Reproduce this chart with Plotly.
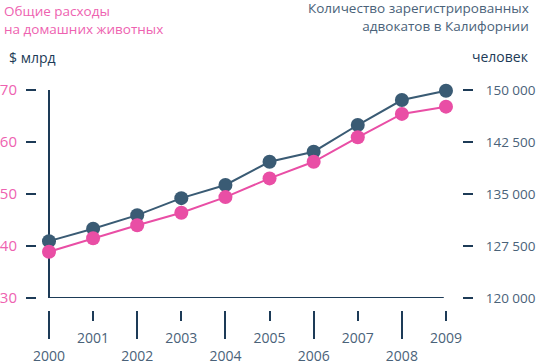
import plotly.graph_objects as go

years = [2000, 2001, 2002, 2003, 2004, 2005, 2006, 2007, 2008, 2009]
pet_spending = [38.9, 41.5, 44.0, 46.4, 49.4, 53.0, 56.2, 60.9, 65.4, 66.8]
lawyers = [128200, 130000, 131950, 134400, 136300, 139650, 141100, 144950, 148550, 149900]

odd_years = [2001, 2003, 2005, 2007, 2009]
even_years = [2000, 2002, 2004, 2006, 2008]
left_ticks = [30, 40, 50, 60, 70]
right_ticks = [120000, 127500, 135000, 142500, 150000]
right_labels = ["120 000", "127 500", "135 000", "142 500", "150 000"]

PINK = "#e94ea5"
PINK_TXT = "#ee62b0"
DARK = "#3a5b74"
NAVY = "#1d3b57"
GREY = "#4a6279"
FONT = "Open Sans"

W, H = 536, 364
L, R, T, B = 37, 74, 90, 54
PW, PH = W - L - R, H - T - B


def px(xp):
    return (xp - L) / PW


def py(yp):
    return (H - B - yp) / PH


fig = go.Figure()
fig.add_trace(go.Scatter(
    x=years, y=lawyers, mode="lines+markers", xaxis="x", yaxis="y",
    line=dict(color=DARK, width=2), marker=dict(color=DARK, size=14),
    cliponaxis=False, showlegend=False, hoverinfo="skip"))
fig.add_trace(go.Scatter(
    x=years, y=pet_spending, mode="lines+markers", xaxis="x", yaxis="y2",
    line=dict(color=PINK, width=2), marker=dict(color=PINK, size=14),
    cliponaxis=False, showlegend=False, hoverinfo="skip"))
fig.add_trace(go.Scatter(
    x=even_years, y=[None] * len(even_years), xaxis="x2", yaxis="y",
    mode="markers", showlegend=False, hoverinfo="skip"))

xr = [1999.728, 2009.363]
ydom = [12 / PH, 1]

fig.update_layout(
    width=W, height=H, margin=dict(l=L, r=R, t=T, b=B, autoexpand=False),
    paper_bgcolor="white", plot_bgcolor="white",
    font=dict(family=FONT, color=GREY),
    xaxis=dict(range=xr, anchor="free", position=0, tickmode="array",
               tickvals=odd_years, ticktext=[str(y) for y in odd_years],
               ticks="outside", ticklen=10, tickwidth=2, tickcolor=NAVY,
               showline=False, showgrid=False, zeroline=False,
               ticklabelstandoff=5,
               tickfont=dict(size=14, color=GREY, family=FONT)),
    xaxis2=dict(range=xr, overlaying="x", anchor="free", position=0,
                side="bottom", tickmode="array",
                tickvals=even_years, ticktext=[str(y) for y in even_years],
                ticks="outside", ticklen=28, tickwidth=2, tickcolor=NAVY,
                showline=False, showgrid=False, zeroline=False,
                ticklabelstandoff=5,
                tickfont=dict(size=14, color=GREY, family=FONT)),
    yaxis=dict(range=[120000, 150000], domain=ydom, side="right",
               anchor="x", tickmode="array", tickvals=right_ticks,
               ticktext=right_labels, ticks="outside", ticklen=10,
               tickwidth=2, tickcolor=NAVY, showline=False, showgrid=False,
               zeroline=False, ticklabelstandoff=10,
               tickfont=dict(size=13.5, color=GREY, family=FONT)),
    yaxis2=dict(range=[30, 70], overlaying="y", side="left", anchor="x",
                tickmode="array", tickvals=left_ticks,
                ticks="outside", ticklen=10, tickwidth=2, tickcolor=NAVY,
                showline=False, showgrid=False, zeroline=False,
                ticklabelstandoff=6,
                tickfont=dict(size=15, color=PINK_TXT, family=FONT)),
    shapes=[
        dict(type="line", xref="x", yref="y2", x0=years[0], x1=years[0],
             y0=left_ticks[0], y1=left_ticks[-1] + 0.2,
             line=dict(color=NAVY, width=2), layer="below"),
        dict(type="line", xref="x", yref="y2", x0=years[0] - 0.02,
             x1=years[-1] - 0.05, y0=left_ticks[0], y1=left_ticks[0],
             line=dict(color=NAVY, width=2), layer="below"),
    ],
    annotations=[
        dict(text="Общие расходы<br>на домашних животных", xref="paper", yref="paper",
             x=px(2), y=py(0), xanchor="left", yanchor="top", align="left",
             showarrow=False, font=dict(size=13.5, color=PINK_TXT, family=FONT)),
        dict(text="Количество зарегистрированных<br>адвокатов в Калифорнии",
             xref="paper", yref="paper", x=px(531), y=py(-3), xanchor="right",
             yanchor="top", align="right", showarrow=False,
             font=dict(size=13.5, color=GREY, family=FONT)),
        dict(text="$ млрд", xref="paper", yref="paper", x=px(7), y=py(57),
             xanchor="left", yanchor="middle", showarrow=False,
             font=dict(size=14, color=NAVY, family=FONT)),
        dict(text="человек", xref="paper", yref="paper", x=px(531), y=py(56),
             xanchor="right", yanchor="middle", showarrow=False,
             font=dict(size=14, color=NAVY, family=FONT)),
    ],
)

fig.write_html("out.html", post_script="document.body.style.margin='0';",
               config={"displayModeBar": False})
